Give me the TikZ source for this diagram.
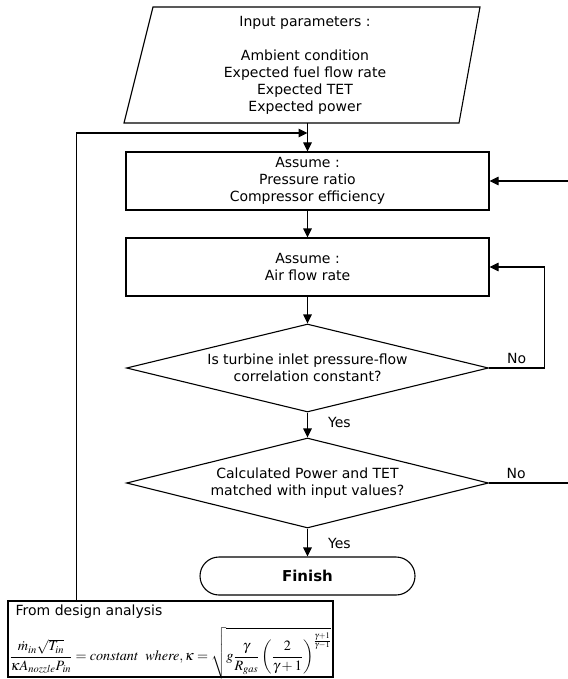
\documentclass[tikz,border=0pt]{standalone}
\usepackage{amsmath}
\usepackage{mathptmx}
\usepackage{fontspec}
\setmainfont{Liberation Serif}
\setsansfont{DejaVu Sans}
\usetikzlibrary{arrows.meta,shapes.geometric,calc}
\tikzset{
  lw/.style={line width=1.1pt},
  txt/.style={font=\sffamily\fontsize{14}{17}\selectfont, align=center},
  pbox/.style={lw, draw, rectangle, txt, minimum width=363pt, minimum height=58pt, inner sep=0pt},
  dbox/.style={lw, draw, diamond, aspect=4.1, txt, minimum width=362pt, minimum height=88pt, inner sep=0pt},
  arr/.style={lw, -{Triangle[length=9pt,width=8.5pt]}},
  lbl/.style={font=\sffamily\fontsize{14}{17}\selectfont, inner sep=0pt},
}
\begin{document}
\begin{tikzpicture}[x=1pt,y=-1pt]
\useasboundingbox (0,0) rectangle (567,679);
% input parallelogram
\draw[lw] (153,7) -- (480,7) -- (459,123) -- (124,123) -- cycle;
\node[txt] (par) at (305,65) {Input parameters :\\[17pt]Ambient condition\\Expected fuel flow rate\\Expected TET\\Expected power};
\coordinate (pb) at (307.5,123);
\coordinate (j) at (307.5,133);
% boxes
\node[pbox] (b1) at (307.5,181) {Assume :\\Pressure ratio\\Compressor efficiency};
\node[pbox] (b2) at (307.5,267) {Assume :\\Air flow rate};
% diamonds
\node[dbox] (d1) at (307.5,368) {Is turbine inlet pressure-flow\\correlation constant?};
\node[dbox, minimum height=90pt] (d2) at (307.5,483) {Calculated Power and TET\\matched with input values?};
% finish
\node[lw, draw, rectangle, rounded corners=19pt, minimum width=215pt, minimum height=38pt, inner sep=0pt, font=\sffamily\bfseries\fontsize{15}{18}\selectfont] (fin) at (307.5,576) {Finish};
% formula box
\node[lw, draw, rectangle, minimum width=325pt, minimum height=76pt, inner sep=0pt] (fb) at (170.5,639) {};
\node[lbl, anchor=west] (fbt) at ($(fb.north west)+(8,11)$) {From design analysis};
\node[inner sep=0pt, font=\fontsize{14.2}{16}\selectfont] (fbf) at ($(fb.center)+(0,14)$) {$\dfrac{\dot m_{in}\sqrt{T_{in}}}{\kappa A_{nozzle}P_{in}} = \mathit{constant}\ \ \mathit{where,}\,\kappa = \sqrt{g\dfrac{\gamma}{R_{gas}}\left(\dfrac{2}{\gamma+1}\right)^{\frac{\gamma+1}{\gamma-1}}}$};
% connectors
\draw[arr] (pb) -- (b1.north);
\draw[arr] (b1.south) -- (b2.north);
\draw[arr] (b2.south) -- (d1.north);
\draw[arr] (d1.south) -- node[lbl, pos=0.38, anchor=west, xshift=20pt] {Yes} (d2.north);
\draw[arr] (d2.south) -- node[lbl, pos=0.55, anchor=west, xshift=20pt] {Yes} (fin.north);
\draw[arr] (d1.east) -- node[lbl, pos=0.5, anchor=south, yshift=4pt] {No} ++(55,0) |- (b2.east);
\draw[arr] (d2.east) -- node[lbl, pos=0.32, anchor=south, yshift=4pt] {No} ++(85,0) |- (b1.east);
\draw[arr] (fb.north west) ++(69,0) |- (j);
\end{tikzpicture}
\end{document}
